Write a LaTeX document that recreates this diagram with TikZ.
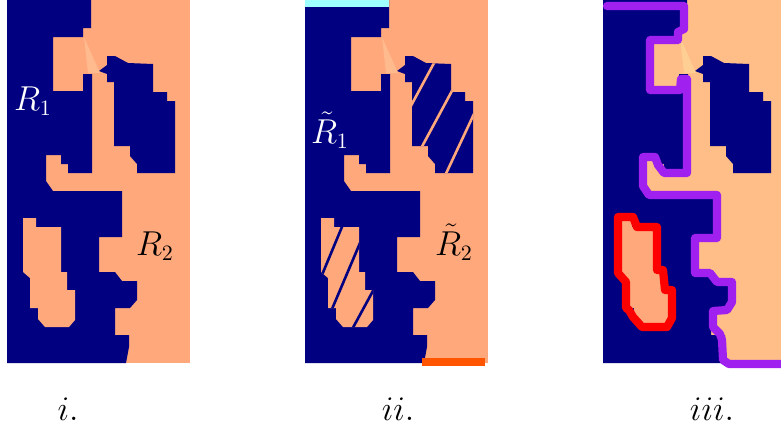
\documentclass[tikz,border=0pt]{standalone}
\usepackage{amsmath}
\usepackage{tikz}
\definecolor{navyc}{RGB}{0,0,128}
\definecolor{salmonc}{RGB}{255,168,124}
\definecolor{peachc}{RGB}{255,190,135}
\definecolor{tric}{RGB}{255,186,142}
\definecolor{trilight}{RGB}{255,206,146}
\definecolor{cyanc}{RGB}{160,255,255}
\definecolor{orangec}{RGB}{255,85,0}
\definecolor{purplec}{RGB}{160,32,240}
\newcommand{\leftpart}{(7,0)--(91,0)--(91,28)--(83,28)--(83,37)--(53,37)--(53,91)--(83,91)--(83,74)--(92,74)--(92,173)--(68,173)--(68,164)--(61,164)--(61,155)--(46,155)--(46,181)--(53,191)--(122,191)--(122,237)--(99,237)--(99,272)--(115,272)--(122,281)--(137,281)--(137,300)--(130,308)--(115,308)--(115,335)--(129,335)--(129,347)--(126,363)--(7,363)--cycle}
\newcommand{\blobpart}{(99,71)--(107,65)--(107,56)--(115,56)--(128,63)--(153,64)--(153,92)--(167,92)--(167,101)--(175,101)--(175,173)--(137,173)--(137,164)--(130,156)--(130,146)--(114,146)--(114,82)--(107,82)--(107,74)--cycle}
\newcommand{\islepart}{(23,218)--(36,218)--(36,227)--(61,227)--(61,272)--(67,272)--(67,290)--(75,290)--(75,320)--(69,327)--(45,327)--(38,319)--(38,308)--(30,308)--(30,278)--(23,272)--cycle}
\begin{document}
\begin{tikzpicture}[x=.5pt,y=-.5pt,font=\fontsize{16}{19}\selectfont,
  hatch/.style={line width=1.3pt},
  rim/.style={line width=4.1pt,line join=round,line cap=round}]
\useasboundingbox (0,0) rectangle (781,435);
\fill[salmonc] (7,0) rectangle (190,363);
\fill[navyc] \leftpart;\fill[navyc] \blobpart;\fill[salmonc] \islepart;
\fill[tric] (84,37)--(88,73)--(100,73)--cycle;
\node[white] (r1) at (33,101) {$R_1$};\node (r2) at (155,246) {$R_2$};
\begin{scope}[shift={(298,0)}]
\fill[salmonc] (7,0) rectangle (190,363);
\fill[navyc] \leftpart;\fill[navyc] \blobpart;\fill[salmonc] \islepart;
\fill[tric] (84,37)--(88,73)--(100,73)--cycle;
\begin{scope}\clip \blobpart;
\draw[salmonc,hatch] (143,50)--(73,180) (176,50)--(106,180) (206,50)--(145,180);
\end{scope}
\begin{scope}\clip \islepart;
\draw[navyc,hatch] (51,210)--(-1,335) (76,210)--(23,335) (119,210)--(51,335);
\end{scope}
\fill[cyanc] (7,0) rectangle (91,7);\fill[orangec] (124,358) rectangle (187,366);
\node[white] (r1t) at (32,130) {$\tilde{R}_1$};\node (r2t) at (156,242) {$\tilde{R}_2$};
\end{scope}
\begin{scope}[shift={(596,0)}]
\fill[peachc] (7,0) rectangle (190,363);
\fill[navyc] \leftpart;\fill[navyc] \blobpart;\fill[salmonc] \islepart;
\fill[trilight] (84,37)--(88,73)--(100,73)--cycle;
\draw[purplec,rim] (11,6)--(88,6)--(88,29)--(82,32)--(82,40)--(54,40)--(54,90)--(84,90)--(85,79)--(91,79)--(91,173)--(68,173)--(62,165)--(59,157)--(47,157)--(47,186)--(53,195)--(121,195)--(121,238)--(99,238)--(99,273)--(114,273)--(121,282)--(136,282)--(136,302)--(131,310)--(117,311)--(117,327)--(124,334)--(126,340)--(127,360)--(133,364)--(190,364);
\draw[red,rim] (22,217)--(37,217)--(41,227)--(61,227)--(61,270)--(67,270)--(69,290)--(76,290)--(76,318)--(71,327)--(46,327)--(37,317)--(33,310)--(30,308)--(30,282)--(22,273)--cycle;
\end{scope}
\node[anchor=base] (ci) at (68,420) {$i.$};\node[anchor=base] (cii) at (398,420) {$ii.$};\node[anchor=base] (ciii) at (712,420) {$iii.$};
\end{tikzpicture}
\end{document}
